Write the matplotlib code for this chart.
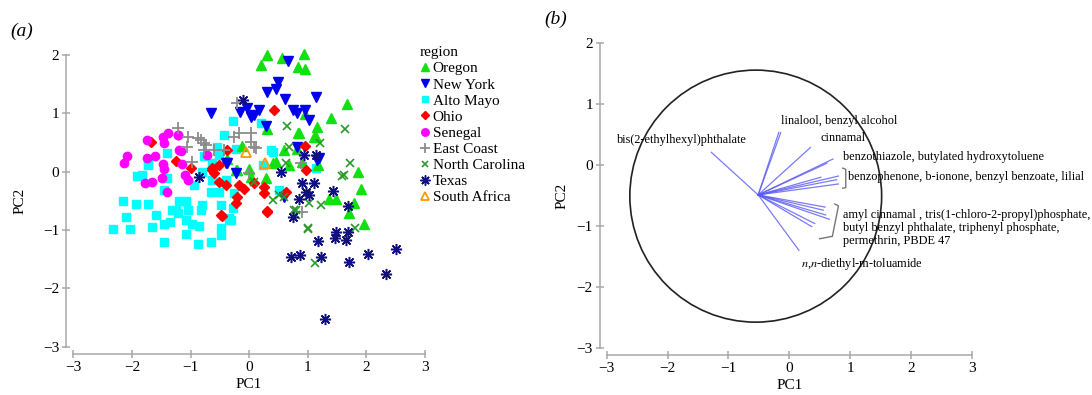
import numpy as np
import matplotlib
matplotlib.use('Agg')
import matplotlib.pyplot as plt
from matplotlib.patches import Circle

plt.rcParams['font.family'] = ['Liberation Serif', 'DejaVu Serif']
plt.rcParams['mathtext.fontset'] = 'stix'

# ---- panel (a): PCA scores by region ----
oregon_x = [0.31, 0.56, 0.21, 0.94, 0.84, 0.96, 1.67, 1.39, 1.15, 0.96, 0.84, 1.11, 0.31,
            0.85, 1.14, -0.12, -0.37, -0.20, 0.00, 0.28, 0.46, 0.60, 0.81, 0.91, 0.03,
            0.40, 0.68, 1.17, 1.85, 1.91, 1.37, 1.48, 1.79, 1.71, 1.96, -0.23]
oregon_y = [2.00, 1.94, 1.83, 2.02, 1.80, 1.76, 1.16, 0.92, 0.77, 0.99, 0.67, 0.60, 0.73,
            0.66, 0.60, 0.44, 0.21, 0.03, 0.04, -0.11, 0.17, 0.37, 0.38, 0.17, -0.09,
            0.14, 0.11, 0.11, 0.00, -0.29, -0.46, -0.46, -0.54, -0.71, -0.89, 0.03]
newyork_x = [0.67, 0.49, 0.46, 0.30, 0.61, 1.14, -0.65, -0.15, -0.03, 0.16, 0.03, 0.09,
             0.75, 0.82, 0.96, 1.02, 0.28, 0.81, -0.37, 1.16, 1.19, 0.60, -0.23, -0.40]
newyork_y = [1.89, 1.54, 1.41, 1.36, 1.24, 1.28, 1.00, 1.03, 1.09, 1.06, 0.93, 0.97,
             1.06, 1.00, 1.05, 0.89, 0.78, 0.43, 0.14, 0.20, 0.23, -0.43, -0.03, 0.14]
altomayo_x = [-2.32, -2.04, -2.10, -2.16, -1.93, -1.72, -1.59, -1.65, -1.45, -1.45, -1.35,
              -1.31, -1.22, -1.19, -1.08, -1.05, -1.08, -1.08, -0.97, -0.85, -0.87, -0.65,
              -0.48, -0.48, -0.48, -0.80, -0.82, -0.31, -0.65, -0.51, -0.28, -1.91, -1.82,
              -1.73, -1.45, -0.94, -0.63, -0.40, -1.40, -1.72, -1.40, -0.77, -0.28, 0.20,
              -0.43, -0.54, -0.51, -0.63, -0.80, 0.40, -1.25, -0.34, -0.26, 0.23, 0.51,
              1.14, 0.37, -0.23, -0.34]
altomayo_y = [-0.98, -0.98, -0.77, -0.50, -0.56, -0.55, -0.74, -0.94, -1.21, -0.89, -0.87,
              -0.66, -0.71, -0.51, -0.51, -0.66, -0.83, -1.07, -0.90, -0.93, -1.24, -1.20,
              -1.09, -0.97, -0.57, -0.57, -0.66, -0.82, -0.34, -0.34, -0.63, -0.07, -0.06,
              0.11, -0.31, -0.23, -0.14, -0.14, 0.32, 0.14, -0.11, 0.26, 0.87, 0.83,
              0.63, 0.43, 0.29, 0.14, 0.00, 0.34, -0.66, -0.83, -0.37, 0.11, -0.31,
              0.06, 0.37, 0.38, -0.80]
ohio_x = [-1.68, -1.25, -0.99, -0.64, -0.63, -0.51, -0.37, -0.60, -0.51, -0.40, -0.17,
          -0.09, -0.20, -0.23, -0.46, 0.26, 0.26, 0.30, 0.96, 0.97, 0.63, 0.43, 0.09,
          -0.48, 0.31]
ohio_y = [0.51, 0.18, 0.06, 0.03, 0.06, 0.11, 0.37, -0.03, -0.17, -0.23, -0.23,
          -0.29, -0.43, -0.54, -0.76, -0.26, -0.37, -0.67, 0.44, 0.03, -0.34, 1.05, -0.20,
          -0.74, -0.69]
senegal_x = [-1.74, -1.47, -1.39, -1.45, -1.22, -2.08, -2.13, -1.74, -1.61, -1.19, -1.47,
             -1.45, -1.14, -1.49, -1.10, -1.04, -1.77, -1.65, -1.40, -0.72, -1.22, -1.17]
senegal_y = [0.54, 0.60, 0.66, 0.49, 0.63, 0.26, 0.14, 0.24, 0.26, 0.37, 0.13,
             0.05, 0.13, -0.11, -0.06, -0.14, -0.20, -0.18, -0.35, 0.29, 0.63, 0.35]
eastcoast_x = [-1.22, -1.05, -0.88, -0.77, -1.06, -0.77, -0.98, -0.20, -0.26, 0.03, 0.03,
               0.11, -0.43, -0.17, -0.82, -0.74, 0.09, 0.00, 0.88, 0.91, -0.60]
eastcoast_y = [0.74, 0.60, 0.57, 0.49, 0.43, 0.37, 0.17, 1.17, 0.60, 0.67, 0.51,
               0.40, 0.37, 0.67, 0.54, 0.46, 0.43, -0.03, 0.14, -0.69, 0.37]
ncarolina_x = [0.65, 1.63, 0.68, 1.21, 1.72, 1.59, 0.09, 0.40, 0.51, 0.60, 0.80, 1.00,
               0.63, 1.62, 1.02, 1.22, 0.77, 1.00, 1.81, 1.13, 0.80]
ncarolina_y = [0.78, 0.73, 0.43, 0.49, 0.14, -0.07, -0.17, -0.49, -0.40, -0.43, -0.66, -0.97,
               0.14, -0.06, -0.54, -0.57, -0.66, -0.99, -0.97, -1.56, -0.74]
texas_x = [0.54, 0.90, 1.11, 0.97, 1.02, 1.43, 0.85, 1.68, 0.74, 1.49, 1.47, 1.68, 1.66,
           1.17, 0.71, 0.87, 1.23, 1.70, 2.03, 2.51, 2.34, 1.29, -0.85, 0.94, 1.14,
           -0.11]
texas_y = [0.00, -0.19, -0.20, -0.34, -0.40, -0.33, -0.46, -0.59, -0.78, -1.03, -1.13,
           -1.03, -1.17, -1.19, -1.47, -1.43, -1.47, -1.54, -1.41, -1.33, -1.75, -2.53,
           -0.09, 0.29, 0.29, 1.23]
safrica_x = [-0.05, 0.27]
safrica_y = [0.33, 0.14]

# ---- panel (b): loadings ----
origin = (-0.51, -0.49)
circle_center = (-0.55, -0.51)
circle_radius = 2.07
load_x = [-1.28, -0.17, -0.14, 0.35, 0.72, 0.62, 0.81, 0.78, 0.81, 0.52,
          0.59, 0.56, 0.66, 0.42, 0.37, 0.60, 0.16]
load_y = [0.21, 0.54, 0.53, 0.29, 0.10, 0.03, -0.18, -0.24, -0.31, -0.20,
          -0.69, -0.74, -0.89, -0.96, -1.01, -0.82, -1.40]

labels = ['bis(2-ethylhexyl)phthalate', 'linalool, benzyl alcohol', 'cinnamal',
          'benzothiazole, butylated hydroxytoluene',
          'benzophenone, b-ionone, benzyl benzoate, lilial',
          'amyl cinnamal , tris(1-chloro-2-propyl)phosphate,\n'
          'butyl benzyl phthalate, triphenyl phosphate,\npermethrin, PBDE 47',
          r'$\mathit{n}$,$\mathit{n}$-diethyl-m-toluamide']
label_x = [-2.84, -0.13, 0.52, 0.89, 0.97, 0.89, 0.20]
label_y = [0.41, 0.73, 0.44, 0.14, -0.20, -1.03, -1.62]

axis_grey = '#a8a8a8'


def range_frame(ax, xb, yb):
    for s in ['top', 'right']:
        ax.spines[s].set_visible(False)
    for s in ['left', 'bottom']:
        ax.spines[s].set_color(axis_grey)
        ax.spines[s].set_linewidth(1.1)
        ax.spines[s].set_position(('outward', 5))
    ax.spines['bottom'].set_bounds(*xb)
    ax.spines['left'].set_bounds(*yb)
    ax.set_xticks(np.arange(xb[0], xb[1] + 1))
    ax.set_yticks(np.arange(yb[0], yb[1] + 1))
    ax.set_xticklabels([str(v).replace('-', '\u2212') for v in range(xb[0], xb[1] + 1)])
    ax.set_yticklabels([str(v).replace('-', '\u2212') for v in range(yb[0], yb[1] + 1)])
    ax.tick_params(direction='inout', length=6, width=1.1, color=axis_grey,
                   labelsize=11, pad=2)


fig = plt.figure(figsize=(10.92, 3.95), dpi=100)

ax1 = fig.add_axes([0.0671, 0.1223, 0.3221, 0.7385])
groups = [
    ('Alto Mayo', altomayo_x, altomayo_y, dict(marker='s', color='#00ffff', ms=5.5)),
    ('Oregon', oregon_x, oregon_y, dict(marker='^', color='#11e011', ms=6.5)),
    ('New York', newyork_x, newyork_y, dict(marker='v', color='#0000ee', ms=6.5)),
    ('Ohio', ohio_x, ohio_y, dict(marker='D', color='#ff0000', ms=4.8)),
    ('Senegal', senegal_x, senegal_y, dict(marker='o', color='#ff00ff', ms=6)),
    ('East Coast', eastcoast_x, eastcoast_y, dict(marker='+', color='#8c8c8c', ms=8, mew=1.3)),
    ('North Carolina', ncarolina_x, ncarolina_y, dict(marker='x', color='#2a9a2a', ms=5.5, mew=1.2)),
    ('Texas', texas_x, texas_y, dict(marker=(8, 2, 0), color='#101080', ms=8, mew=1.1)),
    ('South Africa', safrica_x, safrica_y, dict(marker='^', mfc='none', mec='#ff9900', color='#ff9900', ms=7, mew=1.3)),
]
handles = {}
for name, xs, ys, kw in groups:
    h, = ax1.plot(xs, ys, ls='none', label=name, clip_on=False, **kw)
    handles[name] = h

order = ['Oregon', 'New York', 'Alto Mayo', 'Ohio', 'Senegal', 'East Coast',
         'North Carolina', 'Texas', 'South Africa']
ax1.legend([handles[n] for n in order], order, title='region', loc='upper left',
           bbox_to_anchor=(0.985, 1.03), frameon=False, fontsize=11, title_fontsize=11,
           alignment='left', handlelength=0.7, handletextpad=0.15, labelspacing=0.16,
           borderpad=0, borderaxespad=0, markerscale=0.9)
ax1.set_xlim(-3, 3)
ax1.set_ylim(-3, 2)
range_frame(ax1, (-3, 3), (-3, 2))
ax1.set_xlabel('PC1', fontsize=11, labelpad=3)
ax1.set_ylabel('PC2', fontsize=11, labelpad=12)
fig.text(0.009, 0.91, '(a)', fontsize=14, style='italic')

ax2 = fig.add_axes([0.5556, 0.1197, 0.3342, 0.7706])
ax2.add_patch(Circle(circle_center, circle_radius, fill=False, color='#222222', lw=1.2))
for xe, ye in zip(load_x, load_y):
    ax2.plot([origin[0], xe], [origin[1], ye], color='#5a5af0', lw=0.9, alpha=0.8)
for t, tx, ty in zip(labels, label_x, label_y):
    ax2.text(tx, ty, t, fontsize=8.8, ha='left', va='center', linespacing=1.1)

bracket1_x = [0.88, 0.93, 0.93, 0.88]
bracket1_y = [-0.05, -0.07, -0.37, -0.38]
bracket2_x = [0.75, 0.81, 0.71, 0.50]
bracket2_y = [-0.64, -0.67, -1.17, -1.21]
ax2.plot(bracket1_x, bracket1_y, color='#777777', lw=1.0)
ax2.plot(bracket2_x, bracket2_y, color='#777777', lw=1.0)

ax2.set_xlim(-3, 3)
ax2.set_ylim(-3, 2)
range_frame(ax2, (-3, 3), (-3, 2))
ax2.set_xlabel('PC1', fontsize=11, labelpad=3)
ax2.set_ylabel('PC2', fontsize=11, labelpad=6)
fig.text(0.498, 0.94, '(b)', fontsize=14, style='italic')

fig.savefig('out.png', dpi=100)
